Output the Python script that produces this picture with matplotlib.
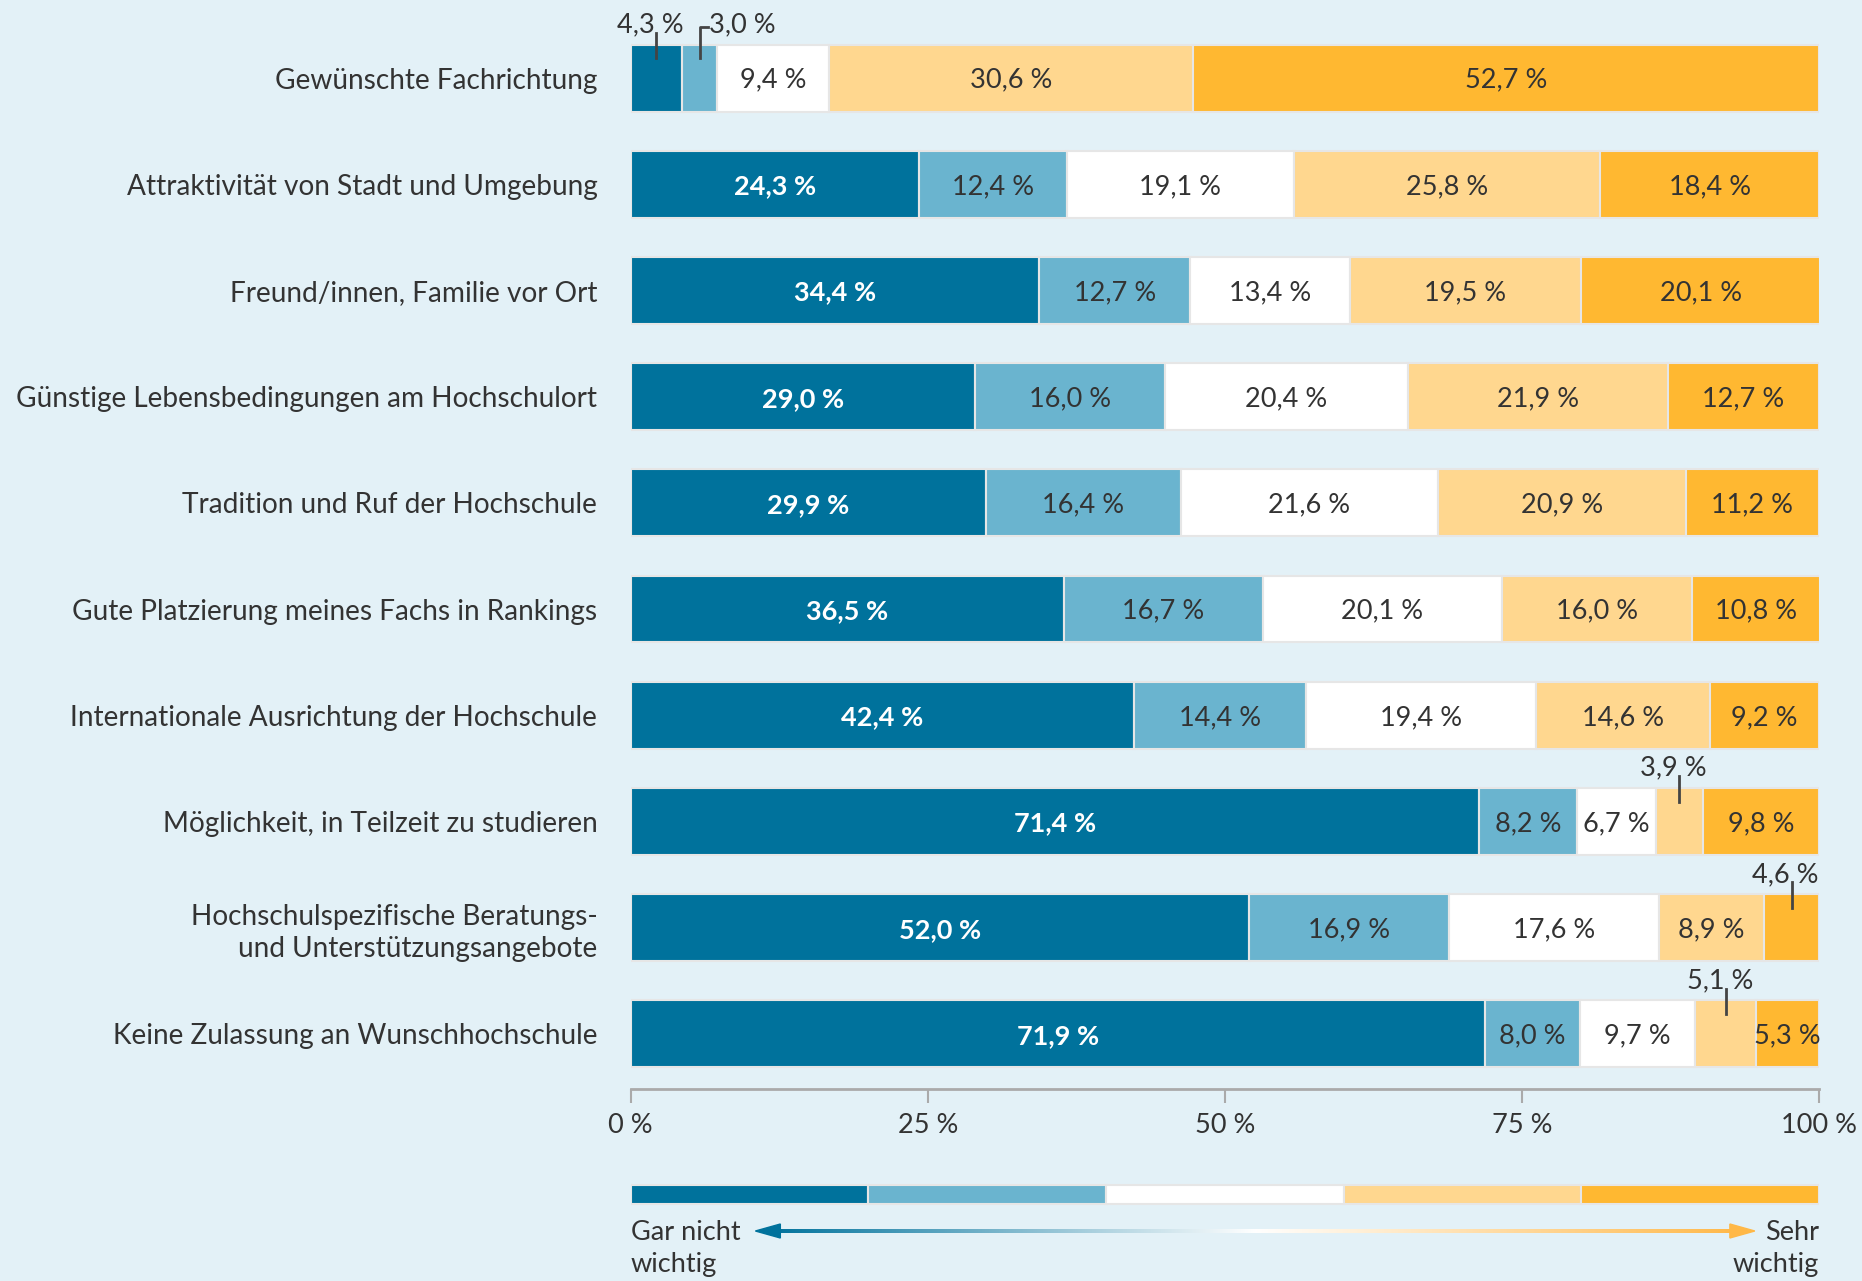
import numpy as np
import matplotlib
matplotlib.use("Agg")
import matplotlib.pyplot as plt
from matplotlib.patches import Polygon

plt.rcParams['font.family'] = ['Lato', 'DejaVu Sans']

categories = [
    "Gewünschte Fachrichtung",
    "Attraktivität von Stadt und Umgebung",
    "Freund/innen, Familie vor Ort",
    "Günstige Lebensbedingungen am Hochschulort",
    "Tradition und Ruf der Hochschule",
    "Gute Platzierung meines Fachs in Rankings",
    "Internationale Ausrichtung der Hochschule",
    "Möglichkeit, in Teilzeit zu studieren",
    "Hochschulspezifische Beratungs-\nund Unterstützungsangebote",
    "Keine Zulassung an Wunschhochschule",
]
gar_nicht = [4.3, 24.3, 34.4, 29.0, 29.9, 36.5, 42.4, 71.4, 52.0, 71.9]
eher_nicht = [3.0, 12.4, 12.7, 16.0, 16.4, 16.7, 14.4, 8.2, 16.9, 8.0]
teils = [9.4, 19.1, 13.4, 20.4, 21.6, 20.1, 19.4, 6.7, 17.6, 9.7]
eher_wichtig = [30.6, 25.8, 19.5, 21.9, 20.9, 16.0, 14.6, 3.9, 8.9, 5.1]
sehr_wichtig = [52.7, 18.4, 20.1, 12.7, 11.2, 10.8, 9.2, 9.8, 4.6, 5.3]
series = [gar_nicht, eher_nicht, teils, eher_wichtig, sehr_wichtig]
colors = ["#00729c", "#6ab4cf", "#ffffff", "#ffd78f", "#ffb831"]
xticks = [0, 25, 50, 75, 100]
xticklabels = ["0 %", "25 %", "50 %", "75 %", "100 %"]
legend_left = "Gar nicht\nwichtig"
legend_right = "Sehr\nwichtig"

BG = "#e3f1f7"
TXT = "#333333"
W, H = 1862, 1281
fig = plt.figure(figsize=(W / 100, H / 100), dpi=100, facecolor=BG)

x0, x1 = 630.6, 1819.0
ax_bottom_px = 1089
ax = fig.add_axes([x0 / W, 1 - ax_bottom_px / H, (x1 - x0) / W, ax_bottom_px / H])
ax.set_facecolor(BG)
n = len(categories)
ax.set_xlim(0, 100)
ax.set_ylim(9.52, -0.735)

ypos = np.arange(n)
bar_h = 0.63
lefts = np.zeros(n)
for si, (vals, col) in enumerate(zip(series, colors)):
    vals = np.array(vals)
    ax.barh(ypos, vals, left=lefts, height=bar_h, color=col,
            edgecolor="#e6e6e6", linewidth=1.5, zorder=2)
    for i, v in enumerate(vals):
        cx = lefts[i] + v / 2
        lab = f"{v:.1f} %".replace(".", ",")
        tcol = "white" if si == 0 else TXT
        if v < 5.2:
            top = i - bar_h / 2
            ty = top - 0.185
            if si == 1 and i == 0:
                # bracket-shaped leader
                ax.plot([cx, cx, cx + 0.75], [top + 0.13, ty + 0.02, ty + 0.02],
                        color="#444444", lw=2, zorder=4, clip_on=False)
                ax.text(cx + 0.8, ty, lab, ha="left", va="center",
                        fontsize=19.5, color=TXT, clip_on=False)
            else:
                ax.plot([cx, cx], [top + 0.13, top - 0.11],
                        color="#444444", lw=2, zorder=4, clip_on=False)
                ax.text(cx - 0.5, ty, lab, ha="center", va="center",
                        fontsize=19.5, color=TXT, clip_on=False)
        else:
            ax.text(cx, i + 0.02, lab, ha="center", va="center", fontsize=19.5,
                    color=tcol, zorder=5,
                    fontweight="bold" if si == 0 else "normal")
    lefts += vals

ax.set_yticks(ypos)
ax.set_yticklabels(categories, fontsize=20.2, color=TXT, linespacing=1.3)
for t in ax.get_yticklabels():
    t.set_horizontalalignment("right")
ax.tick_params(axis="y", length=0, pad=24)

ax.set_xticks(xticks)
ax.set_xticklabels(xticklabels, fontsize=19.5, color=TXT)
ax.tick_params(axis="x", direction="out", length=10, width=1.5, color="#aaaaaa",
               pad=7)
for s in ["top", "right", "left"]:
    ax.spines[s].set_visible(False)
ax.spines["bottom"].set_color("#aaaaaa")
ax.spines["bottom"].set_linewidth(2)

# legend axes
leg_top = 1170
lax = fig.add_axes([x0 / W, 0, (x1 - x0) / W, (H - leg_top) / H])
lax.set_xlim(0, 100)
lax.set_ylim(H - leg_top, 0)
lax.axis("off")
seg = 100 / len(colors)
for k, col in enumerate(colors):
    lax.barh([24.5], [seg], left=[k * seg], height=19, color=col,
             edgecolor="#e6e6e6", linewidth=1.5)

# gradient arrow
ax_l, ax_r = 11.5, 93.5
yc = 61
npx = 600
t = np.linspace(0, 1, npx)
c_left = np.array(matplotlib.colors.to_rgb(colors[0]))
c_right = np.array([1.0, 0.72, 0.28])
img = np.zeros((1, npx, 4))
for j, tt in enumerate(t):
    if tt < 0.5:
        f = tt / 0.5
        rgb = c_left * (1 - f) + np.ones(3) * f
    else:
        f = (tt - 0.5) / 0.5
        rgb = np.ones(3) * (1 - f) + c_right * f
    img[0, j, :3] = rgb
    img[0, j, 3] = 1.0
lax.imshow(img, extent=[ax_l, ax_r, yc + 2, yc - 2], aspect="auto", zorder=3,
           interpolation="bilinear")
lax.add_patch(Polygon([[10.5, yc], [12.6, yc - 7], [12.6, yc + 7]], closed=True,
                      color=colors[0], zorder=4))
lax.add_patch(Polygon([[94.6, yc], [92.5, yc - 7], [92.5, yc + 7]], closed=True,
                      color=c_right, zorder=4))
lax.set_xlim(0, 100)
lax.set_ylim(H - leg_top, 0)
lax.text(0, 50, legend_left, ha="left", va="top", fontsize=19.5, color=TXT,
         linespacing=1.33)
lax.text(100, 50, legend_right, ha="right", va="top", fontsize=19.5, color=TXT,
         linespacing=1.33, multialignment="right")

fig.savefig("out.png", dpi=100, facecolor=BG)
